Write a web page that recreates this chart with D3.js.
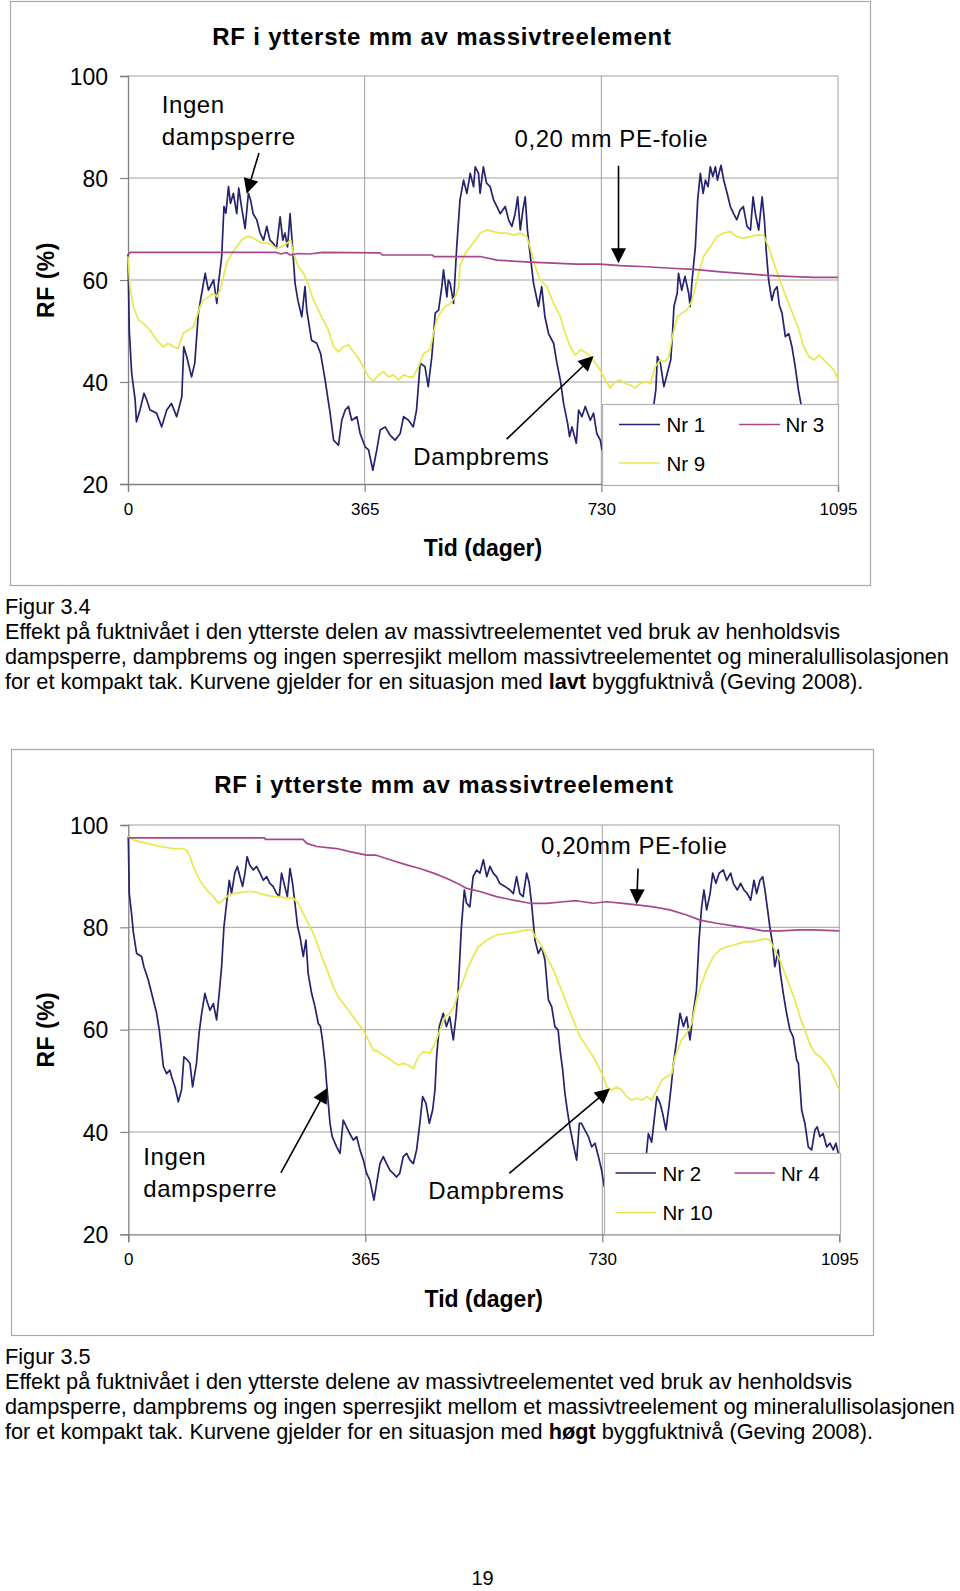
<!DOCTYPE html>
<html><head><meta charset="utf-8">
<script src="https://cdn.jsdelivr.net/npm/d3@7"></script>
<style>
html,body{margin:0;padding:0;background:#fff;}
svg{display:block;font-family:"Liberation Sans",Arial,Helvetica,sans-serif;}
</style></head><body>
<svg id="page" width="960" height="1591"></svg>
<script>
// ---------------- DATA ----------------
const xTicks = [0, 365, 730, 1095];
const yTicks = [20, 40, 60, 80, 100];
const chartTitle = "RF i ytterste mm av massivtreelement";
const xTitle = "Tid (dager)";
const yTitle = "RF (%)";

// Figure 3.4 (low building moisture) – [day, RF %]
const nr1 = [[0,65],[2,50],[5.7,41.7],[11,36.5],[13,32.2],[18.5,34.5],[24.7,37.8],[28.8,36.5],[34,34.5],[44,33.9],[52,31.2],[59.7,34.5],[67,35.8],[75,33.2],[83,37.1],[86,46.9],[90.5,45],[98,41],[103,43.7],[108.5,53.5],[113.7,57.4],[119,61.3],[124,58],[132,60],[137,55.4],[139,58.7],[144.5,64.6],[148,74.4],[151,73.1],[155,78.3],[158,75],[162.5,77],[167.7,73],[170.8,78],[175,74.4],[180.6,70.1],[185.7,77],[189,75.7],[193,73],[198.6,71.8],[203.7,69.2],[209,67.8],[214,70.5],[219,67.8],[224,67.2],[229,66.2],[234.6,72.4],[238.7,67.8],[242,69.2],[246,66.5],[250,73],[253,67.8],[257.7,59.3],[262,56],[268,52.8],[273,58.7],[275.7,54.1],[283,48.2],[291,47.6],[297,45.6],[304,40.4],[311.7,33.9],[317,28.6],[324.6,27.6],[329.7,32.5],[335,34.5],[340,35.2],[345,32.5],[353,33.2],[358,29.9],[365.7,27.3],[371,26.7],[377.6,22.7],[383.7,26.7],[389,30.6],[396.6,31.2],[404,29.6],[412,28.6],[419.8,29.9],[425,33.2],[432.6,32.5],[440,31.2],[445,34.5],[450.6,43.7],[458,43],[463,39.1],[468.6,45],[473.8,53.5],[479,54.1],[484,58.7],[486.6,62],[491.8,56.7],[494,60],[497,59.3],[502,55.4],[507,66.5],[512,75.7],[517.5,79.6],[522.6,77],[527.8,80.9],[533,78.3],[535.5,82.2],[540.6,80.9],[543,77],[548,82.2],[553,79],[558.6,78.3],[563.8,75.7],[569,74.4],[574,73],[581.8,74.4],[587,71.8],[592,70.5],[597,73],[601,76.3],[605,69.8],[609,73.7],[612.6,76.3],[616,69.8],[620,65.2],[625.5,59.3],[633,54.8],[638,58.7],[643,52.8],[648.6,49.5],[656.4,47.6],[661.5,43.7],[666.7,40.4],[671.8,35.8],[678,31.9],[681,29.3],[684.7,31.2],[691.4,28],[695,34.5],[700,33.2],[705.2,35.2],[713,32.5],[718,33.9],[723,29.9],[728.4,28.6],[731,26.7],[740,28],[750,25.5],[760,27],[770,24.5],[780,26.5],[790,28],[800,30.5],[806,33],[811,35.6],[814,38.4],[816.5,45],[821,43.7],[826.5,39.1],[831.7,41.7],[837,44.3],[839.5,48.9],[842,54.8],[847,57.4],[849,61.3],[854,58],[859,60.7],[864.7,57.4],[867,54.8],[870,60],[875,66.5],[878.6,75.7],[882.7,80.9],[887,77],[890.5,79.6],[894.6,78.3],[898,82.2],[902,80.3],[906,82.2],[909,79.6],[914.6,82.5],[918.7,79.6],[924,77],[929,74.4],[934,73],[939,71.8],[944,73.7],[949,74.4],[954.7,70.5],[960,69.8],[964,76.3],[967.6,73],[972.7,69.8],[978,76.3],[981.5,71.8],[984.6,65.2],[988,60],[993,56],[997,58],[1001,58.7],[1004.6,55],[1008.7,53.5],[1013.8,48.9],[1019,49.5],[1024,46.9],[1029,43],[1034,38.4],[1038,35.6],[1045,32],[1055,29],[1065,30.5],[1075,28],[1085,29],[1095,27]];
const nr9 = [[0,64.6],[3,58.7],[8,54.8],[16,52.2],[23.7,51.5],[34,50.2],[44,48.2],[54.5,46.9],[62,47.6],[70,46.9],[77.7,46.6],[85,49.5],[93,50.2],[100.8,50.8],[106,52.8],[111,54.8],[116,56],[124,56.7],[132,57.4],[137,56.7],[142,58],[147,60.5],[152,63.3],[160,65.2],[167.7,66.5],[175,67.8],[183,68.5],[191,68.4],[198.6,67.8],[206,67.2],[214,67.3],[222,66.9],[229,66.2],[237,66.5],[245,67.2],[251,67.8],[255,65.2],[263,62.6],[270.6,61.3],[275.7,60],[281,58],[286,56],[293.7,54.1],[301,52.2],[309,50.2],[317,46.9],[324.6,45.9],[332,46.9],[340,47.3],[347.7,45.9],[355.5,44.6],[363,43],[371,41],[378.6,40.1],[386,41.4],[394,42],[401.7,41],[409.5,41.4],[417,40.4],[425,41.4],[432.6,41],[440,41],[448,43],[455.8,45.6],[466,46.3],[471,49.5],[476,52.2],[481.5,53.5],[489,54.8],[497,55.4],[504.6,56.7],[510,58.7],[512,62.6],[520,65.2],[527.8,66.5],[538,68.2],[543,69.2],[553.5,69.8],[563.8,69.5],[574,69.2],[584,69.2],[594.6,68.8],[605,69.2],[615,68.5],[620,66.5],[628,62.6],[635.8,60],[646,58.7],[656.4,55.4],[666.7,52.8],[674.4,49.5],[682,46.9],[690,45.3],[697.5,46.3],[705,45.9],[713,45],[720.7,43.7],[728,42.4],[736,40.4],[743.8,38.8],[751.5,40.1],[759,40.4],[767,39.7],[774.7,39.4],[782,38.8],[790,39.7],[798,40.1],[805.6,39.7],[813,43],[821,44.3],[828.7,44],[834,45],[839.5,48.9],[847,52.8],[854.5,53.5],[862,54.1],[870,56],[876,59.3],[880,61.3],[887.6,64.6],[898,66.5],[908,68.5],[918.7,69.2],[929,69.5],[939,68.5],[949,68.2],[960,68.5],[970,68.8],[980,68.8],[988,66.5],[996,63.3],[1003.6,60.7],[1011,58],[1019,55.4],[1027,52.8],[1034.7,50.2],[1042,46.9],[1050,45],[1058,44.3],[1065.6,45.3],[1073.6,44.3],[1081,43.3],[1088.7,42.4],[1095,40.5]];
const nr3 = [[0,64.9],[3,65.4],[100,65.4],[200,65.4],[229,65.4],[236,65.1],[244,65.4],[250,64.9],[262,65.2],[280,65.1],[300,65.4],[389,65.3],[392,64.9],[469,64.9],[472,64.6],[543,64.6],[569,63.9],[620,63.5],[692,63.1],[728,63.1],[759,62.8],[800,62.6],[837,62.3],[873,62.1],[914,61.6],[955,61.2],[986,60.9],[1017,60.7],[1058,60.5],[1095,60.5]];

// Figure 3.5 (high building moisture) – [day, RF %]
const nr2 = [[0,97.7],[1.5,86.6],[5,82.7],[7.7,79.1],[12.8,74.9],[20.5,74.3],[24,72.3],[30.8,69.7],[38.5,65.8],[43.6,63.2],[47.7,59.9],[51.3,56],[54,52.8],[59,51.4],[64,52.1],[66.7,50.8],[72,48.8],[77,45.9],[82,48.2],[85.7,54.7],[90.8,54.1],[95,53.4],[99,48.8],[105,53.4],[109,59.3],[113,63.2],[118,67.1],[120.6,65.8],[125.8,63.8],[131,65.1],[136,61.9],[140,67.1],[143.7,72.3],[147.3,80.1],[151.4,84.7],[155.5,89.2],[159,86.6],[164,90.6],[168,91.9],[172,89.9],[176,88],[179.7,90.6],[183,93.8],[187,92.2],[192.5,91.2],[197.6,91.9],[202.8,90.6],[208,89.2],[213,89.9],[218,88.6],[223,88],[228.4,86.6],[232.5,86],[236,90.6],[241,88],[244.9,86],[249,91.5],[253,88.6],[256.7,84.7],[260.8,80.1],[264.4,78.2],[269.5,74.3],[273.6,77.5],[277,71],[282.3,67.1],[287.5,64.5],[292.6,61.2],[296,60.6],[299,58],[303,53.5],[305.4,49.5],[308,45.6],[310.6,41.7],[314,39.1],[320.8,37.1],[326,35.8],[331,42.3],[336,41],[341,39.7],[346.5,38.4],[351.6,39.1],[356.8,36.5],[362,34.5],[367,31.9],[372,30.6],[378.3,26.7],[382.4,29.9],[387.6,33.8],[392.7,35.2],[397.8,33.8],[403,32.5],[408,31.9],[413,31.2],[418,31.9],[423.5,35.2],[428.6,35.8],[433.8,34.5],[439,33.8],[444,36.5],[449,41.7],[453.3,46.9],[458.4,45.6],[463.6,41.7],[468.7,44.3],[472.3,48.2],[474.8,54.7],[479,60.6],[485,63.2],[490,60.6],[495,62.5],[500.5,58],[504.6,62.5],[508,67.7],[513,80.1],[517.5,87.3],[521,84.7],[526,84],[531,89.9],[536.4,91.2],[541.6,90.6],[546.8,93.2],[552,89.9],[557,91.9],[562,90.6],[567,89.9],[572,88.6],[580,88],[587.8,87.3],[593,86.6],[598,89.9],[603,86.6],[608,86],[613.5,90.6],[617.5,88.6],[621,84.7],[626.3,77.5],[631.5,74.9],[636.6,76.2],[641.7,73.6],[647,65.8],[652,64.5],[657,60.6],[662,59.9],[665,56],[669,52.1],[672.5,47.5],[676,44.3],[680,41],[685,37.8],[690.5,34.5],[694.6,41.7],[698,41.7],[703,40.4],[708.6,39.1],[713.6,37.1],[718.7,37.8],[724,35.2],[729,32.5],[733,29.3],[740,30],[750,28],[760,30.5],[770,27.5],[780,29],[790,31],[798,35.8],[801,39.7],[806,38],[814,46.9],[819,45.6],[823,43.6],[828,40.4],[832,44.3],[835.5,48.2],[839.8,53.5],[844.6,58],[849.7,63.2],[855,60.6],[860,62.5],[865,58],[870,63.2],[875,67.7],[879,77.5],[883,84],[886.6,87.3],[890.7,83.4],[896,86.6],[900,90.6],[905,88.6],[910,90.6],[916.4,91.2],[921.5,89.2],[927.7,90.6],[931.8,88.6],[938,87.3],[943,88.6],[948.2,87.3],[953.4,86.6],[958.5,85.3],[963.6,89.2],[967.7,86.6],[972.8,89.2],[977,89.9],[980.5,87.3],[984,84],[988,80.1],[992,76.9],[995.7,72.3],[1001,75.6],[1003.5,71.7],[1008.7,67.1],[1013.8,63.2],[1019,59.9],[1024,58.6],[1029.3,54.1],[1032,53.4],[1037,44.3],[1042,41.7],[1047.2,37.1],[1052.4,36.5],[1057.5,40.4],[1061,41],[1065,39.1],[1070,39.7],[1075.5,37.1],[1080.6,37.8],[1085.7,36.5],[1089.8,37.8],[1093.4,35.8],[1095,34]];
const nr10 = [[0,97.7],[7.7,97.1],[18,96.7],[28,96.4],[38.5,96.1],[48.8,95.8],[59,95.6],[69.3,95.4],[82,95.4],[89.8,95.1],[95,93.8],[100,91.9],[110,89.2],[120.6,87.3],[131,86],[138.6,84.7],[143.7,85],[151.4,86],[161.7,86.6],[172,86.8],[182,87],[192.5,87],[202.8,86.6],[213,86.3],[223,86],[233.6,86],[243.8,85.7],[254,85.7],[261.8,84.7],[269.5,82.7],[277,80.8],[285,78.8],[292.6,76.2],[300,73.6],[308,71],[315.7,68.4],[323.4,66.4],[331,65.1],[338.8,63.8],[346.5,62.5],[354,61.2],[362,59.9],[369.6,58],[377.3,56],[385,55.7],[392.7,55],[400.4,54.4],[408,53.7],[415.8,53.1],[423.5,53.4],[431,53.1],[439,52.4],[446.6,54.7],[454.3,55.7],[464.6,55.4],[472.3,57.3],[480,59.9],[487.7,62.5],[495.4,63.2],[501.5,64.5],[508,67.1],[516,69.7],[523.6,72.3],[531,74.3],[539,76.2],[552,77.5],[567,78.5],[583,78.8],[598,79.1],[613.5,79.5],[621.5,79.5],[626.3,78.2],[634,76.9],[644,74.3],[654.6,71.7],[665,68.4],[675,65.1],[685.4,61.9],[695.6,58.6],[705.9,56.7],[716,54.7],[724,52.8],[731.6,50.8],[736.7,48.8],[744.4,48.2],[752,48.8],[760,48.2],[767.6,46.9],[775,46.2],[783,46.6],[790.6,46.2],[798.3,46.9],[806,46.2],[814,48.2],[821.5,50.1],[829,50.8],[837,51.4],[842,54.7],[852,58],[860,59.3],[867.7,61.2],[875,65.8],[883,69],[890.7,71.7],[901,74.3],[911,75.6],[921.5,76.2],[931.8,76.5],[942,76.9],[952,77.2],[962.5,77.2],[972.8,77.5],[980.5,77.8],[988,77.5],[995.7,75.6],[1003.5,73.6],[1011,71],[1019,68.4],[1026.6,65.8],[1034.4,62.5],[1042,59.9],[1050,57],[1057.7,55.4],[1065.4,54.7],[1073,53.6],[1080,52.5],[1086,50.8],[1095,48.2]];
const nr4 = [[0,97.5],[100,97.5],[210,97.5],[211,97.2],[269,97.2],[275,96.4],[290,95.8],[321,95.4],[341,94.8],[367,94.1],[382,94.1],[403,93.2],[428.6,92.2],[449,91.5],[470,90.6],[490,89.6],[511,88.3],[521,87.6],[541.6,87],[567,86],[593,85.3],[618.6,84.7],[644,84.7],[670,85],[690,85.2],[716,84.7],[736.4,85],[762,84.7],[783,84.4],[808.6,84],[834,83.4],[860,82.4],[880.5,81.4],[906,80.8],[931.8,80.3],[957.5,79.8],[978,79.3],[1004,79.3],[1034.4,79.5],[1055,79.5],[1095,79.3]];

const captionA = ["Figur 3.4",
  "Effekt på fuktnivået i den ytterste delen av massivtreelementet ved bruk av henholdsvis",
  "dampsperre, dampbrems og ingen sperresjikt mellom massivtreelementet og mineralullisolasjonen",
  ["for et kompakt tak. Kurvene gjelder for en situasjon med ", "lavt", " byggfuktnivå (Geving 2008)."]];
const captionB = ["Figur 3.5",
  "Effekt på fuktnivået i den ytterste delene av massivtreelementet ved bruk av henholdsvis",
  "dampsperre, dampbrems og ingen sperresjikt mellom et massivtreelement og mineralullisolasjonen",
  ["for et kompakt tak. Kurvene gjelder for en situasjon med ", "høgt", " byggfuktnivå (Geving 2008)."]];
const pageNumber = "19";

// ---------------- STYLE / LAYOUT ----------------
const NAVY = "#23236f", YELLOW = "#e8e84e", PURPLE = "#a8468e";
const FONT = '"Liberation Sans", Arial, Helvetica, sans-serif';

const charts = [
  { frame:[10.5,1.5,860,584], plot:{l:128,t:76,r:838,b:484}, titleY:45, xTitleY:556,
    series:[{name:"Nr 1",data:nr1,color:NAVY},{name:"Nr 9",data:nr9,color:YELLOW},{name:"Nr 3",data:nr3,color:PURPLE}],
    legend:{x:602.5,y:404.5,w:236,h:81,rows:[20,58.5],lx:[16.5,136.5],ll:41,tx:[64,183],
            order:[[0,0,0],[2,1,0],[1,0,1]]},
    labels:[{lines:["Ingen","dampsperre"],d:52,v:92.7,gap:32},
            {lines:["0,20 mm PE-folie"],d:596,v:86.1,gap:0},
            {lines:["Dampbrems"],d:440,v:23.7,gap:0}],
    arrows:[[202,84.9,183,76.9],[756.5,82.4,756.5,63.3],[584,28.8,718,45.1]] },
  { frame:[11.5,749.5,862,586], plot:{l:128.3,t:825,r:839.3,b:1234.3}, titleY:793, xTitleY:1307,
    series:[{name:"Nr 2",data:nr2,color:NAVY},{name:"Nr 10",data:nr10,color:YELLOW},{name:"Nr 4",data:nr4,color:PURPLE}],
    legend:{x:604.5,y:1153.5,w:236,h:81,rows:[19.5,59],lx:[11,130],ll:40.5,tx:[58,176.5],
            order:[[0,0,0],[2,1,0],[1,0,1]]},
    labels:[{lines:["0,20mm PE-folie"],d:635.5,v:94.3,gap:0},
            {lines:["Ingen","dampsperre"],d:23,v:33.5,gap:31.7},
            {lines:["Dampbrems"],d:462,v:26.9,gap:0}],
    arrows:[[785,91.5,783,84.5],[235,32,306.5,48.6],[586.7,31.9,741.8,48.5]] }
];

const svg = d3.select("#page");
svg.append("rect").attr("width",960).attr("height",1591).attr("fill","#fff");

function arrow(g, x1, y1, x2, y2) {
  const dx = x2 - x1, dy = y2 - y1, L = Math.hypot(dx, dy);
  const ux = dx / L, uy = dy / L, len = 15, hw = 7.5;
  const bx = x2 - ux * len, by = y2 - uy * len;
  g.append("line").attr("x1",x1).attr("y1",y1).attr("x2",bx+ux*2).attr("y2",by+uy*2)
    .attr("stroke","#000").attr("stroke-width",1.6);
  g.append("path").attr("d", d3.line()([[x2,y2],[bx - uy*hw, by + ux*hw],[bx + uy*hw, by - ux*hw]]) + "Z")
    .attr("fill","#000");
}

charts.forEach(c => {
  const g = svg.append("g");
  const [fx, fy, fw, fh] = c.frame;
  g.append("rect").attr("x",fx).attr("y",fy).attr("width",fw).attr("height",fh)
    .attr("fill","#fff").attr("stroke","#a8a8a8").attr("stroke-width",1.2);

  const x = d3.scaleLinear().domain([0, 1095]).range([c.plot.l, c.plot.r]);
  const y = d3.scaleLinear().domain([20, 100]).range([c.plot.b, c.plot.t]);

  // gridlines
  g.append("g").selectAll("line").data(yTicks.slice(1)).join("line")
    .attr("x1", c.plot.l).attr("x2", c.plot.r).attr("y1", d => y(d)).attr("y2", d => y(d))
    .attr("stroke","#a0a0a0").attr("stroke-width",1);
  g.append("g").selectAll("line").data(xTicks.slice(1)).join("line")
    .attr("y1", c.plot.t).attr("y2", c.plot.b).attr("x1", d => x(d)).attr("x2", d => x(d))
    .attr("stroke","#a0a0a0").attr("stroke-width",1);

  // axes
  const ya = g.append("g").attr("transform",`translate(${c.plot.l},0)`)
    .call(d3.axisLeft(y).tickValues(yTicks).tickSize(8).tickPadding(12).tickFormat(d3.format("d")));
  const xa = g.append("g").attr("transform",`translate(0,${c.plot.b})`)
    .call(d3.axisBottom(x).tickValues(xTicks).tickSize(8).tickPadding(11).tickFormat(d3.format("d")));
  [ya, xa].forEach(a => {
    a.selectAll("path.domain").attr("stroke","#808080").attr("stroke-width",1.3);
    a.selectAll(".tick line").attr("stroke","#808080").attr("stroke-width",1.2);
  });
  ya.selectAll("text").attr("font-family",FONT).attr("font-size",23).attr("fill","#000").attr("dy","0.36em");
  xa.selectAll("text").attr("font-family",FONT).attr("font-size",17).attr("fill","#000");

  // series
  const line = d3.line().x(d => x(d[0])).y(d => y(d[1]));
  c.series.forEach(s => {
    g.append("path").datum(s.data).attr("d", line).attr("fill","none")
      .attr("stroke", s.color).attr("stroke-width", 1.7).attr("stroke-linejoin","round");
  });

  // titles
  g.append("text").attr("x", fx + fw/2 + 1.5).attr("y", c.titleY).attr("text-anchor","middle")
    .attr("font-family",FONT).attr("font-weight","bold").attr("font-size",24).attr("letter-spacing",0.8)
    .text(chartTitle);
  g.append("text").attr("x", (c.plot.l + c.plot.r)/2).attr("y", c.xTitleY).attr("text-anchor","middle")
    .attr("font-family",FONT).attr("font-weight","bold").attr("font-size",23).text(xTitle);
  g.append("text").attr("transform",`translate(54,${(c.plot.t + c.plot.b)/2}) rotate(-90)`)
    .attr("text-anchor","middle").attr("font-family",FONT).attr("font-weight","bold").attr("font-size",23)
    .attr("letter-spacing",0.5).text(yTitle);

  // annotations
  c.labels.forEach(l => {
    const t = g.append("text").attr("font-family",FONT).attr("font-size",24).attr("letter-spacing",0.6);
    l.lines.forEach((ln, i) => t.append("tspan").attr("x", x(l.d)).attr("y", y(l.v) + i * l.gap).text(ln));
  });
  c.arrows.forEach(a => arrow(g, x(a[0]), y(a[1]), x(a[2]), y(a[3])));

  // legend
  const L = c.legend;
  const lg = g.append("g").attr("transform",`translate(${L.x},${L.y})`);
  lg.append("rect").attr("width",L.w).attr("height",L.h).attr("fill","#fff")
    .attr("stroke","#b0b0b0").attr("stroke-width",1.2);
  L.order.forEach(([si, col, row]) => {
    const s = c.series[si];
    lg.append("line").attr("x1",L.lx[col]).attr("x2",L.lx[col]+L.ll)
      .attr("y1",L.rows[row]).attr("y2",L.rows[row]).attr("stroke",s.color).attr("stroke-width",1.7);
    lg.append("text").attr("x",L.tx[col]).attr("y",L.rows[row] + 7.5)
      .attr("font-family",FONT).attr("font-size",20.5).text(s.name);
  });
});

// captions
function caption(lines, y0) {
  lines.forEach((ln, i) => {
    const t = svg.append("text").attr("x",5).attr("y", y0 + i*25)
      .attr("font-family",FONT).attr("font-size",21.7).attr("fill","#000");
    if (Array.isArray(ln)) {
      t.append("tspan").text(ln[0]);
      t.append("tspan").attr("font-weight","bold").text(ln[1]);
      t.append("tspan").text(ln[2]);
    } else t.text(ln);
  });
}
caption(captionA, 614);
caption(captionB, 1364);
svg.append("text").attr("x",482.5).attr("y",1585).attr("text-anchor","middle")
  .attr("font-family",FONT).attr("font-size",20).text(pageNumber);
</script>
</body></html>
